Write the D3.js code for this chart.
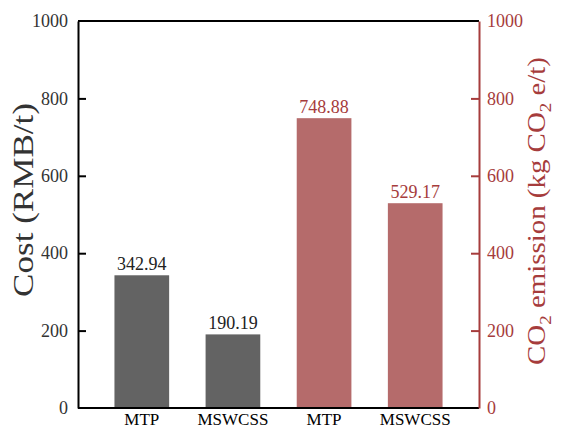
<!DOCTYPE html>
<html>
<head>
<meta charset="utf-8">
<script src="https://cdn.jsdelivr.net/npm/d3@7"></script>
<style>
  html, body { margin: 0; padding: 0; background: #fff; }
  svg { display: block; }
</style>
</head>
<body>
<div id="chart"></div>
<script>
const categories = ['MTP', 'MSWCSS', 'MTP', 'MSWCSS'];
const costValues = [342.94, 190.19];
const co2Values = [748.88, 529.17];
const tickValues = [0, 200, 400, 600, 800, 1000];

const width = 563, height = 432;
const plotLeft = 78, plotRight = 479, plotTop = 21, plotBottom = 408;
const FONT = "'Liberation Serif', 'Times New Roman', serif";
const GRAY = '#636363', RED_BAR = '#b56b6b', RED = '#a63c3c';

const bars = [
    ...costValues.map((v, i) => ({ key: i, label: categories[i], value: v, axis: 'cost' })),
    ...co2Values.map((v, i) => ({ key: i + 2, label: categories[i + 2], value: v, axis: 'co2' }))
];

const svg = d3.select('#chart').append('svg')
    .attr('width', width).attr('height', height);

const x = d3.scaleBand().domain(bars.map(d => d.key))
    .range([plotLeft, plotRight]).paddingInner(0.4).paddingOuter(0.4);
const yCost = d3.scaleLinear().domain([0, 1000]).range([plotBottom, plotTop]);
const yCo2 = d3.scaleLinear().domain([0, 1000]).range([plotBottom, plotTop]);

// bars
svg.append('g').selectAll('rect')
    .data(bars).enter().append('rect')
    .attr('x', d => x(d.key))
    .attr('width', x.bandwidth())
    .attr('y', d => (d.axis === 'cost' ? yCost : yCo2)(d.value))
    .attr('height', d => plotBottom - (d.axis === 'cost' ? yCost : yCo2)(d.value))
    .attr('fill', d => d.axis === 'cost' ? GRAY : RED_BAR);

// value labels
svg.append('g').selectAll('text')
    .data(bars).enter().append('text')
    .attr('x', d => x(d.key) + x.bandwidth() / 2)
    .attr('y', d => (d.axis === 'cost' ? yCost : yCo2)(d.value) - 5)
    .attr('text-anchor', 'middle')
    .attr('font-family', FONT).attr('font-size', 18)
    .attr('fill', d => d.axis === 'cost' ? '#222' : RED)
    .text(d => d.value.toFixed(2));

// frame top line
svg.append('line').attr('x1', plotLeft).attr('x2', plotRight).attr('y1', plotTop).attr('y2', plotTop)
    .attr('stroke', '#000').attr('stroke-width', 2);

// x axis
const xAxis = svg.append('g').attr('transform', `translate(0,${plotBottom})`)
    .call(d3.axisBottom(x).tickSize(0).tickPadding(5).tickFormat(k => bars[k].label));
xAxis.select('.domain').attr('stroke', '#000').attr('stroke-width', 2)
    .attr('d', `M${plotLeft},0H${plotRight}`);
xAxis.selectAll('text').attr('font-family', FONT).attr('font-size', 17).attr('fill', '#000');

// left axis
const yAxisL = svg.append('g').attr('transform', `translate(${plotLeft},0)`)
    .call(d3.axisLeft(yCost).tickValues(tickValues).tickFormat(d3.format('d')).tickSize(0).tickPadding(10));
yAxisL.select('.domain').attr('stroke', '#000').attr('stroke-width', 2);
yAxisL.selectAll('text').attr('font-family', FONT).attr('font-size', 18).attr('fill', '#333');
yAxisL.selectAll('.tick').filter(d => d > 0 && d < 1000).append('line')
    .attr('x1', 0).attr('x2', 8).attr('stroke', '#000').attr('stroke-width', 2);

// right axis
const yAxisR = svg.append('g').attr('transform', `translate(${plotRight},0)`)
    .call(d3.axisRight(yCo2).tickValues(tickValues).tickFormat(d3.format('d')).tickSize(0).tickPadding(8));
yAxisR.select('.domain').attr('stroke', RED).attr('stroke-width', 2);
yAxisR.selectAll('text').attr('font-family', FONT).attr('font-size', 18).attr('fill', RED);
yAxisR.selectAll('.tick').filter(d => d > 0 && d < 1000).append('line')
    .attr('x1', 0).attr('x2', -8).attr('stroke', RED).attr('stroke-width', 2);

// axis titles, stretched to the length seen in the reference
function stretchFactor(sel, targetLen) {
    const w = sel.node().getComputedTextLength();
    return targetLen / w;
}

const titleL = svg.append('text')
    .attr('font-family', FONT).attr('font-size', 29).attr('fill', '#333')
    .attr('text-anchor', 'middle')
    .text('Cost (RMB/t)');
const sL = stretchFactor(titleL, 194);
titleL.attr('transform', `translate(33,200) rotate(-90) scale(${sL},1)`);

const titleR = svg.append('text')
    .attr('font-family', FONT).attr('font-size', 26).attr('fill', RED)
    .attr('text-anchor', 'middle');
titleR.append('tspan').text('CO');
titleR.append('tspan').attr('font-size', 17).attr('dy', 6).text('2');
titleR.append('tspan').attr('dy', -6).text(' emission (kg CO');
titleR.append('tspan').attr('font-size', 17).attr('dy', 6).text('2');
titleR.append('tspan').attr('dy', -6).text(' e/t)');
const sR = stretchFactor(titleR, 308);
titleR.attr('transform', `translate(545,211) rotate(-90) scale(${sR},1)`);
</script>
</body>
</html>
